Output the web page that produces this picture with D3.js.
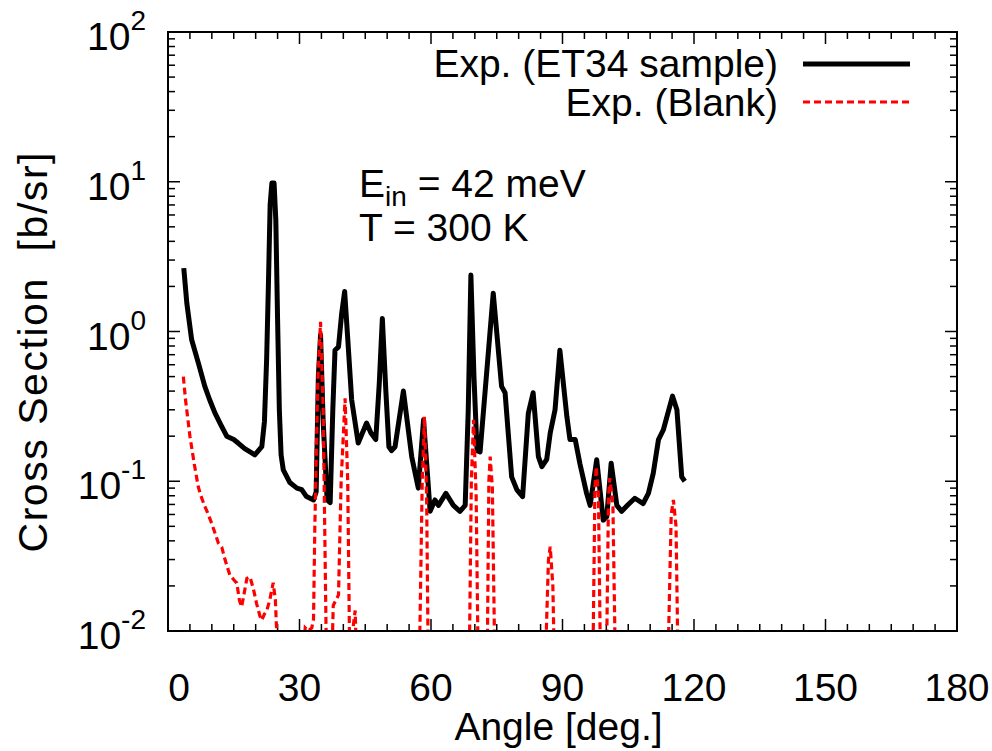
<!DOCTYPE html>
<html>
<head>
<meta charset="utf-8">
<script src="https://cdn.jsdelivr.net/npm/d3@7/dist/d3.min.js"></script>
<style>
  html, body { margin: 0; padding: 0; background: #fff; }
  svg { display: block; }
  text { font-family: "Liberation Sans", Arial, Helvetica, sans-serif; fill: #000; white-space: pre; }
</style>
</head>
<body>
<script>
// ---- data ----
const sampleAngle = [3.6, 4.3, 5.4, 6.9, 8.4, 9.5, 10.7, 12.0, 13.4, 15.0, 16.0, 17.5, 19.0, 19.8, 21.4, 22.0, 22.5, 22.9, 23.3, 23.7, 24.2, 24.6, 25.0, 25.4, 25.8, 26.3, 27.8, 29.4, 30.5, 31.6, 33.2, 33.8, 34.3, 34.8, 35.4, 36.3, 37.0, 37.6, 38.1, 38.9, 39.6, 40.3, 41.0, 41.9, 43.4, 45.3, 46.3, 47.4, 48.2, 48.9, 49.7, 50.4, 51.0, 51.8, 53.7, 55.6, 57.1, 58.3, 59.8, 60.9, 61.7, 63.4, 65.1, 66.6, 67.8, 68.5, 69.1, 69.8, 70.5, 71.2, 74.2, 76.1, 76.9, 78.4, 79.6, 80.9, 82.2, 83.3, 84.5, 85.3, 86.4, 87.2, 88.3, 89.4, 91.0, 91.7, 92.9, 94.0, 95.5, 96.3, 97.8, 99.3, 100.1, 101.1, 102.4, 103.5, 105.0, 106.5, 108.4, 109.6, 110.7, 111.9, 113.0, 115.1, 116.1, 117.2, 117.9];
const sampleValue = [2.65, 1.54, 0.88, 0.62, 0.43, 0.35, 0.286, 0.24, 0.20, 0.19, 0.18, 0.165, 0.155, 0.15, 0.17, 0.25, 0.65, 2.0, 7.0, 9.8, 9.8, 5.5, 1.2, 0.3, 0.15, 0.119, 0.098, 0.09, 0.088, 0.079, 0.075, 0.085, 0.5, 0.95, 0.25, 0.075, 0.072, 0.3, 0.75, 0.79, 1.3, 1.85, 0.9, 0.35, 0.18, 0.245, 0.21, 0.19, 0.45, 1.22, 0.4, 0.17, 0.16, 0.17, 0.40, 0.146, 0.09, 0.257, 0.063, 0.075, 0.069, 0.083, 0.069, 0.063, 0.069, 0.3, 2.38, 0.5, 0.16, 0.157, 1.80, 0.43, 0.39, 0.107, 0.0875, 0.079, 0.284, 0.39, 0.146, 0.125, 0.14, 0.21, 0.30, 0.75, 0.27, 0.19, 0.19, 0.13, 0.083, 0.069, 0.139, 0.055, 0.058, 0.132, 0.069, 0.063, 0.070, 0.077, 0.071, 0.083, 0.113, 0.19, 0.22, 0.37, 0.30, 0.107, 0.10];

const blankAngle = [3.5, 4.0, 5.0, 6.0, 6.9, 7.5, 8.4, 9.0, 10.0, 11.5, 12.3, 13.0, 14.1, 15.0, 15.7, 16.3, 16.8, 17.4, 18.0, 18.7, 19.5, 20.2, 21.0, 21.4, 22.0, 22.5, 23.2, 24.0, 24.5, 25.2, 30.5, 31.3, 32.0, 32.8, 33.2, 33.5, 34.2, 34.8, 35.4, 36.2, 37.3, 37.7, 38.9, 39.5, 40.4, 41.0, 41.5, 42.3, 42.7, 43.1, 57.3, 58.0, 58.5, 59.0, 59.4, 68.7, 69.2, 69.7, 70.3, 70.8, 72.8, 73.2, 73.5, 74.0, 74.6, 86.0, 86.8, 87.2, 87.8, 88.2, 96.9, 97.4, 97.7, 98.2, 98.7, 100.0, 100.5, 100.8, 101.5, 102.1, 114.0, 114.8, 115.3, 115.9, 116.4];
const blankValue = [0.50, 0.35, 0.20, 0.13, 0.092, 0.08, 0.068, 0.062, 0.052, 0.0386, 0.036, 0.030, 0.0237, 0.022, 0.0209, 0.016, 0.0145, 0.018, 0.0225, 0.023, 0.019, 0.0153, 0.0125, 0.0118, 0.013, 0.0136, 0.016, 0.021, 0.016, 0.005, 0.005, 0.0105, 0.010, 0.0105, 0.012, 0.05, 0.5, 1.16, 0.3, 0.005, 0.005, 0.0148, 0.0174, 0.1, 0.358, 0.1, 0.005, 0.011, 0.0137, 0.005, 0.005, 0.1, 0.27, 0.08, 0.005, 0.005, 0.1, 0.257, 0.08, 0.005, 0.005, 0.1, 0.146, 0.09, 0.005, 0.005, 0.03, 0.0366, 0.02, 0.005, 0.005, 0.09, 0.125, 0.08, 0.005, 0.005, 0.08, 0.105, 0.07, 0.005, 0.005, 0.06, 0.075, 0.05, 0.005];

const xTickValues = [0, 30, 60, 90, 120, 150, 180];
const yTickExponents = [-2, -1, 0, 1, 2];
const seriesNames = ["Exp. (ET34 sample)", "Exp. (Blank)"];
const xTitle = "Angle [deg.]";
const yTitle = "Cross Section  [b/sr]";

// ---- layout ----
const W = 992, H = 751;
const L = 168, R = 957, T = 32, B = 631;
const FS = 39, FSS = 28;

const svg = d3.select("body").append("svg").attr("width", W).attr("height", H);

const x = d3.scaleLinear().domain([0, 180]).range([L, R]);
const y = d3.scaleLog().domain([0.01, 100]).range([B, T]);

svg.append("clipPath").attr("id", "clip")
  .append("rect").attr("x", L).attr("y", T).attr("width", R - L).attr("height", B - T);

// ticks
const xMinor = d3.range(0, 181, 5).filter(v => v % 30 !== 0);
const majLen = 12, minLen = 7;
const tickG = svg.append("g").attr("stroke", "#000").attr("stroke-width", 1.5);

function xTicks(vals, len) {
  vals.forEach(v => {
    tickG.append("line").attr("x1", x(v)).attr("x2", x(v)).attr("y1", B).attr("y2", B - len);
    tickG.append("line").attr("x1", x(v)).attr("x2", x(v)).attr("y1", T).attr("y2", T + len);
  });
}
xTicks(xTickValues, majLen);
xTicks(xMinor, minLen);

const yMajor = yTickExponents.map(e => Math.pow(10, e));
const yMinor = [];
yTickExponents.slice(0, -1).forEach(e => { for (let k = 2; k <= 9; k++) yMinor.push(k * Math.pow(10, e)); });
function yTicks(vals, len) {
  vals.forEach(v => {
    tickG.append("line").attr("x1", L).attr("x2", L + len).attr("y1", y(v)).attr("y2", y(v));
    tickG.append("line").attr("x1", R).attr("x2", R - len).attr("y1", y(v)).attr("y2", y(v));
  });
}
yTicks(yMajor, majLen);
yTicks(yMinor, minLen);

// x tick labels
svg.append("g").selectAll("text").data(xTickValues).join("text")
  .attr("x", d => x(d) + (d === 0 ? 11 : 0)).attr("y", 701)
  .attr("text-anchor", "middle").attr("font-size", FS)
  .text(d => d);

// y tick labels 10^n
const yl = svg.append("g").selectAll("text").data(yTickExponents).join("text")
  .attr("x", 146).attr("y", d => y(Math.pow(10, d)) + 18)
  .attr("text-anchor", "end").attr("font-size", FS);
yl.append("tspan").text("10");
yl.append("tspan").attr("font-size", FSS).attr("dy", -20).text(d => d);

// axis titles
svg.append("text").attr("x", (L + R) / 2 - 4).attr("y", 740).attr("text-anchor", "middle")
  .attr("font-size", FS).text(xTitle);
svg.append("text").attr("transform", `translate(47, ${(T + B) / 2 + 21}) rotate(-90)`)
  .attr("text-anchor", "middle").attr("font-size", 41)
  .attr("textLength", 400).attr("lengthAdjust", "spacing").text(yTitle);

// lines
const line = d3.line().x(d => x(d[0])).y(d => y(d[1]));
const plot = svg.append("g").attr("clip-path", "url(#clip)");
const blankPts = blankAngle.map((a, i) => [a, blankValue[i]]);
const samplePts = sampleAngle.map((a, i) => [a, sampleValue[i]]);
plot.append("path").datum(samplePts)
  .attr("d", line).attr("fill", "none").attr("stroke", "#000")
  .attr("stroke-width", 5).attr("stroke-linejoin", "round");
plot.append("path").datum(blankPts)
  .attr("d", line).attr("fill", "none").attr("stroke", "#ff0000")
  .attr("stroke-width", 3.2).attr("stroke-dasharray", "7,4");

// frame
svg.append("rect").attr("x", L).attr("y", T).attr("width", R - L).attr("height", B - T)
  .attr("fill", "none").attr("stroke", "#000").attr("stroke-width", 2);

// legend
const lg = svg.append("g");
lg.append("text").attr("x", 778).attr("y", 77).attr("text-anchor", "end").attr("font-size", FS).text(seriesNames[0]);
lg.append("text").attr("x", 778).attr("y", 116).attr("text-anchor", "end").attr("font-size", FS).text(seriesNames[1]);
lg.append("line").attr("x1", 803).attr("x2", 910).attr("y1", 64).attr("y2", 64)
  .attr("stroke", "#000").attr("stroke-width", 5);
lg.append("line").attr("x1", 803).attr("x2", 910).attr("y1", 102).attr("y2", 102)
  .attr("stroke", "#ff0000").attr("stroke-width", 3.2).attr("stroke-dasharray", "7,4");

// annotation
const a1 = svg.append("text").attr("x", 359).attr("y", 197).attr("font-size", FS);
a1.append("tspan").text("E");
a1.append("tspan").attr("font-size", FSS).attr("dy", 9).text("in");
a1.append("tspan").attr("dy", -9).text(" = 42 meV");
svg.append("text").attr("x", 359).attr("y", 241).attr("font-size", FS).text("T = 300 K");
</script>
</body>
</html>
